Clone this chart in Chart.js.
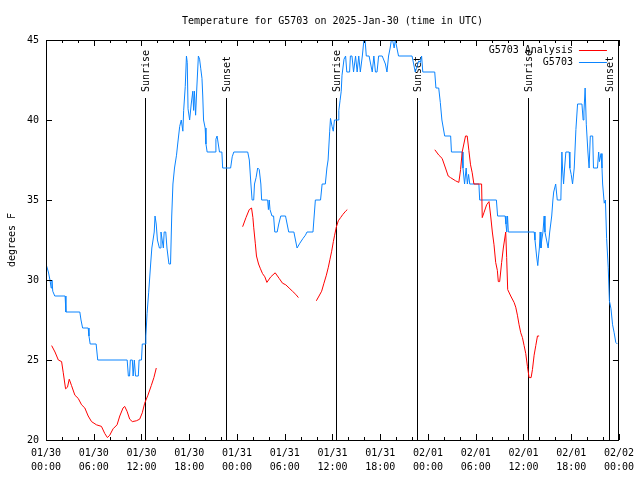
<!DOCTYPE html>
<html>
<head>
<meta charset="utf-8">
<script src="https://cdn.jsdelivr.net/npm/chart.js@4.4.1/dist/chart.umd.min.js"></script>
<style>
html,body{margin:0;padding:0;background:#fff;}
#wrap{width:640px;height:480px;}
canvas{display:block;}
</style>
</head>
<body>
<div id="wrap"><canvas id="c" width="640" height="480"></canvas></div>
<script>
// ---------- data ----------
const titleText = 'Temperature for G5703 on 2025-Jan-30 (time in UTC)';
const yAxisTitle = 'degrees F';
const xTickHours = [0, 6, 12, 18, 24, 30, 36, 42, 48, 54, 60, 66, 72];
const xTickDates = ['01/30','01/30','01/30','01/30','01/31','01/31','01/31','01/31','02/01','02/01','02/01','02/01','02/02'];
const xTickTimes = ['00:00','06:00','12:00','18:00','00:00','06:00','12:00','18:00','00:00','06:00','12:00','18:00','00:00'];
const yTicks = [20, 25, 30, 35, 40, 45];
const sunriseHours = [12.43, 36.47, 60.58];
const sunsetHours = [22.6, 46.65, 70.8];
const seriesNames = ['G5703 Analysis', 'G5703'];

// hours since 01/30 00:00 UTC
const analysisHours = [
  0.71,1.13,1.55,1.96,2.17,2.46,2.7,2.92,3.21,3.63,4.05,4.47,4.88,5.3,5.72,6.34,6.97,7.39,7.72,8.01,
  8.43,8.93,9.27,9.68,9.89,10.18,10.52,10.85,11.35,11.77,12.1,12.4,12.81,13.23,13.56,13.86,
  19,
  24.71,25.13,25.54,25.83,26.0,26.1,26.3,26.45,26.71,26.95,27.21,27.5,27.76,28.25,28.8,29.3,29.72,30.13,30.55,30.97,31.39,31.72,
  32.8,
  33.97,34.31,34.64,34.93,35.23,35.48,35.69,35.9,36.11,36.27,36.48,36.73,37.02,37.31,37.65,37.86,
  43,
  48.86,49.37,49.78,50.2,50.54,50.83,51.47,51.88,52.1,52.3,52.51,52.72,52.93,53.14,53.35,53.56,53.77,54.74,54.82,55.03,
  55.37,55.67,55.88,56.09,56.3,56.51,56.72,56.84,57.01,57.26,57.47,57.77,57.89,58.02,58.4,58.82,59.03,59.24,59.45,59.66,
  59.87,60.08,60.29,60.5,60.71,60.96,61.13,61.34,61.55,61.76,61.97
];
const analysisTemps = [
  25.9,25.5,25.0,24.9,24.2,23.2,23.3,23.8,23.4,22.8,22.6,22.2,22.0,21.5,21.15,20.95,20.85,20.4,20.15,20.3,
  20.7,20.95,21.5,22.0,22.1,21.8,21.3,21.15,21.2,21.3,21.7,22.3,22.8,23.4,23.9,24.5,
  null,
  33.33,33.9,34.4,34.5,33.9,33.3,32.3,31.5,31.0,30.7,30.4,30.2,29.85,30.2,30.45,30.1,29.8,29.7,29.5,29.3,29.1,28.9,
  null,
  28.7,29.0,29.3,29.8,30.3,30.8,31.3,31.8,32.4,32.8,33.3,33.7,33.9,34.1,34.3,34.4,
  null,
  38.14,37.8,37.6,37.0,36.5,36.4,36.2,36.1,36.9,38.0,38.5,39.0,39.0,38.1,37.2,36.7,36.0,36.0,33.9,34.2,
  34.7,34.9,34.0,33.0,32.2,31.1,30.6,29.9,29.9,31.1,32.0,33.0,31.4,29.4,29.0,28.6,28.3,27.8,27.2,26.7,
  26.4,25.9,25.4,24.6,23.9,23.9,24.4,25.3,25.9,26.5,26.5
];

const stationHours = [
  0.0,0.3,0.5,0.65,0.75,0.85,1.1,2.4,2.5,4.25,4.4,4.6,5.3,5.4,5.55,6.3,6.5,10.2,10.35,10.5,
  10.6,10.85,10.95,11.1,11.25,11.6,11.7,12.0,12.1,12.45,12.55,12.7,12.9,13.15,13.3,13.6,13.7,13.85,14.0,14.25,
  14.4,14.45,14.6,14.75,14.85,15.05,15.2,15.45,15.65,15.8,15.95,16.15,16.4,16.55,16.8,17.0,17.2,17.3,17.5,17.65,
  17.75,17.85,18.05,18.25,18.45,18.55,18.65,18.8,18.95,19.15,19.3,19.45,19.6,19.7,19.8,20.0,20.1,20.25,21.25,21.35,
  21.5,21.65,21.8,22.1,22.2,23.2,23.4,23.6,25.35,25.55,25.75,25.9,26.1,26.2,26.4,26.6,26.8,27.0,27.1,27.85,
  27.95,28.05,28.15,28.4,28.6,28.75,29.05,29.25,29.5,30.1,30.3,30.5,31.15,31.35,31.55,31.9,32.3,32.6,32.8,33.55,
  33.7,33.85,34.5,34.7,35.1,35.3,35.45,35.65,35.75,35.95,36.1,36.25,36.7,36.8,36.95,37.1,37.2,37.45,37.65,37.8,
  38.15,38.25,38.45,38.65,38.9,39.1,39.3,39.5,39.75,39.95,40.1,40.25,40.6,40.8,41.0,41.2,41.4,41.6,41.8,42.25,
  42.65,42.85,43.05,43.25,43.4,43.55,43.75,43.9,44.1,44.3,46.0,46.2,46.4,46.85,47.05,47.2,47.35,48.85,49.0,49.35,
  49.55,49.75,50.1,50.85,50.95,52.3,52.4,52.6,52.8,52.95,53.1,53.25,54.4,54.5,56.6,56.75,57.7,57.8,57.9,58.0,
  58.1,61.35,61.45,61.65,61.8,61.9,62.0,62.1,62.2,62.3,62.45,62.6,62.7,62.9,63.1,63.3,63.55,63.7,63.8,64.05,
  64.25,64.7,64.83,64.91,65.04,65.17,65.33,65.75,65.83,66.0,66.17,66.38,66.59,66.8,67.35,67.5,67.6,67.75,67.9,68.1,
  68.25,68.4,68.7,68.8,69.3,69.45,69.55,69.75,69.87,69.95,70.15,70.3,70.45,70.65,70.8,71.0,71.2,71.4,71.6,71.8
];
const stationTemps = [
  31,30.5,30,29.5,30,29.3,29,29,28,28,27.5,27,27,26.5,26,26,25,25,24,24,
  25,25,24,25,24,24,25,25,26,26,26.5,27.9,29.2,31,32,33,34,33.5,32.5,32,
  32,33,32.5,32,33,33,32,31,31,34,36,37,37.8,38.5,39.6,40,39.3,40.6,42.1,44,
  43.6,40.7,40,41,41.8,40.6,41.8,40.3,42,44,43.8,43.2,42.6,41.5,40,39.5,38.5,38,38,38.8,
  39,38.5,38,38,37,37,37.7,38,38,37.5,36,35,35,36,36.4,37,36.9,36,35,35,
  34.4,35,34.4,34,34,33,33,33.5,34,34,33.5,33,33,32.5,32,32.3,32.6,32.8,33,33,
  34,35,35,36,36,37,37.5,39.3,40.1,39.6,39.3,40,40,40.6,41.2,41.8,42.8,43.8,44,43,
  43,44,44,43,44,43,44,43,44,45,45,44,44,43.5,43,44,43,43,44,44,
  43.5,43,44,44.5,45,45,44.5,45,44.5,44,44,43.5,43,43.7,43.6,44,43,43,42,42,
  41.1,40,39,39,38,38,37,36,37,36,36.6,36,36,35,35,34,34,33.5,33,34,
  33,33,32.5,31.5,30.9,31.5,32,33,32,32.5,33,34,33,32.5,32,33,34,35,35.5,36,
  35,35,38,37,36,37,38,38,37,36.6,36,37,39.4,41,41,40,40.5,42,39.7,38,
  37,39,39,37,37,38,37.4,37.9,37,36,34.8,35,32.6,30.8,28.7,28.2,27.2,26.7,26.1,26
];

// ---------- chart ----------
const FONT = "'DejaVu Sans Mono', 'Liberation Mono', monospace";
const RED = '#ff0000';
const BLUE = '#0a84ff';

const gnuplotFrame = {
  id: 'gnuplotFrame',
  beforeDatasetsDraw(chart) {
    const ctx = chart.ctx;
    const a = chart.chartArea;
    const xs = chart.scales.x, ys = chart.scales.y;
    ctx.save();
    ctx.strokeStyle = '#000';
    ctx.lineWidth = 1;
    ctx.fillStyle = '#000';
    // sunrise / sunset marker lines with labels
    ctx.font = '10px ' + FONT;
    const marks = [];
    sunriseHours.forEach(h => marks.push([h, 'Sunrise']));
    sunsetHours.forEach(h => marks.push([h, 'Sunset']));
    marks.forEach(([h, label]) => {
      const x = Math.round(xs.getPixelForValue(h)) + 0.5;
      ctx.beginPath();
      ctx.moveTo(x, a.top + 58);
      ctx.lineTo(x, a.bottom);
      ctx.stroke();
      ctx.save();
      ctx.translate(x + 1, a.top + 52);
      ctx.rotate(-Math.PI / 2);
      ctx.textAlign = 'left';
      ctx.textBaseline = 'middle';
      ctx.fillText(label, 0, 0);
      ctx.restore();
    });
    ctx.restore();
  },
  afterDraw(chart) {
    const ctx = chart.ctx;
    const a = chart.chartArea;
    const xs = chart.scales.x, ys = chart.scales.y;
    ctx.save();
    ctx.strokeStyle = '#000';
    ctx.fillStyle = '#000';
    ctx.lineWidth = 1;
    // border
    ctx.strokeRect(a.left + 0.5, a.top + 0.5, Math.round(a.right - a.left) - 1, Math.round(a.bottom - a.top));
    // x ticks (inward, mirrored on top)
    ctx.beginPath();
    for (let h = xs.min; h <= xs.max; h += 2) {
      const x = Math.round(xs.getPixelForValue(h)) + 0.5;
      const major = xTickHours.includes(h);
      const len = major ? 6 : 3;
      ctx.moveTo(x, a.bottom); ctx.lineTo(x, a.bottom - len);
      ctx.moveTo(x, a.top); ctx.lineTo(x, a.top + len);
    }
    // y ticks (inward, mirrored on right)
    yTicks.forEach(v => {
      const y = Math.round(ys.getPixelForValue(v)) + 0.5;
      ctx.moveTo(a.left, y); ctx.lineTo(a.left + 6, y);
      ctx.moveTo(a.right, y); ctx.lineTo(a.right - 6, y);
    });
    ctx.stroke();
    // title
    ctx.font = '10px ' + FONT;
    ctx.textAlign = 'center';
    ctx.textBaseline = 'middle';
    ctx.fillText(titleText, (a.left + a.right) / 2, 21);
    // legend (gnuplot style, top right inside)
    ctx.textAlign = 'right';
    chart.data.datasets.forEach((ds, i) => {
      const y = a.top + 10 + i * 12;
      ctx.fillStyle = '#000';
      ctx.fillText(ds.label, a.right - 46, y);
      ctx.strokeStyle = ds.borderColor;
      ctx.beginPath();
      ctx.moveTo(a.right - 40, Math.round(y) + 0.5);
      ctx.lineTo(a.right - 12, Math.round(y) + 0.5);
      ctx.stroke();
    });
    ctx.restore();
  }
};

new Chart(document.getElementById('c'), {
  type: 'line',
  data: {
    datasets: [
      {
        label: seriesNames[0],
        data: analysisHours.map((h, i) => ({ x: h, y: analysisTemps[i] })),
        borderColor: RED,
        borderWidth: 1,
        pointRadius: 0,
        tension: 0,
        spanGaps: false,
        fill: false
      },
      {
        label: seriesNames[1],
        data: stationHours.map((h, i) => ({ x: h, y: stationTemps[i] })),
        borderColor: BLUE,
        borderWidth: 1,
        pointRadius: 0,
        tension: 0,
        fill: false
      }
    ]
  },
  options: {
    responsive: false,
    animation: false,
    events: [],
    layout: { padding: { top: 40, right: 19, left: 0, bottom: 0 } },
    plugins: { legend: { display: false }, title: { display: false }, tooltip: { enabled: false } },
    scales: {
      x: {
        type: 'linear',
        min: 0,
        max: 72,
        afterBuildTicks: s => { s.ticks = xTickHours.map(v => ({ value: v })); },
        afterFit: s => { s.height = 40; },
        grid: { display: false, drawTicks: false },
        border: { display: false },
        ticks: {
          autoSkip: false,
          maxRotation: 0,
          padding: 6,
          color: '#000',
          font: { family: FONT, size: 10, lineHeight: 1.4 },
          callback: (v, i) => [xTickDates[i], xTickTimes[i]]
        }
      },
      y: {
        type: 'linear',
        min: 20,
        max: 45,
        afterBuildTicks: s => { s.ticks = yTicks.map(v => ({ value: v })); },
        afterFit: s => { s.width = 46; },
        grid: { display: false, drawTicks: false },
        border: { display: false },
        ticks: {
          padding: 7,
          color: '#000',
          font: { family: FONT, size: 10 }
        },
        title: {
          display: true,
          text: yAxisTitle,
          color: '#000',
          font: { family: FONT, size: 10, lineHeight: 1.2 },
          padding: { top: 6, bottom: 0 }
        }
      }
    }
  },
  plugins: [gnuplotFrame]
});
</script>
</body>
</html>
